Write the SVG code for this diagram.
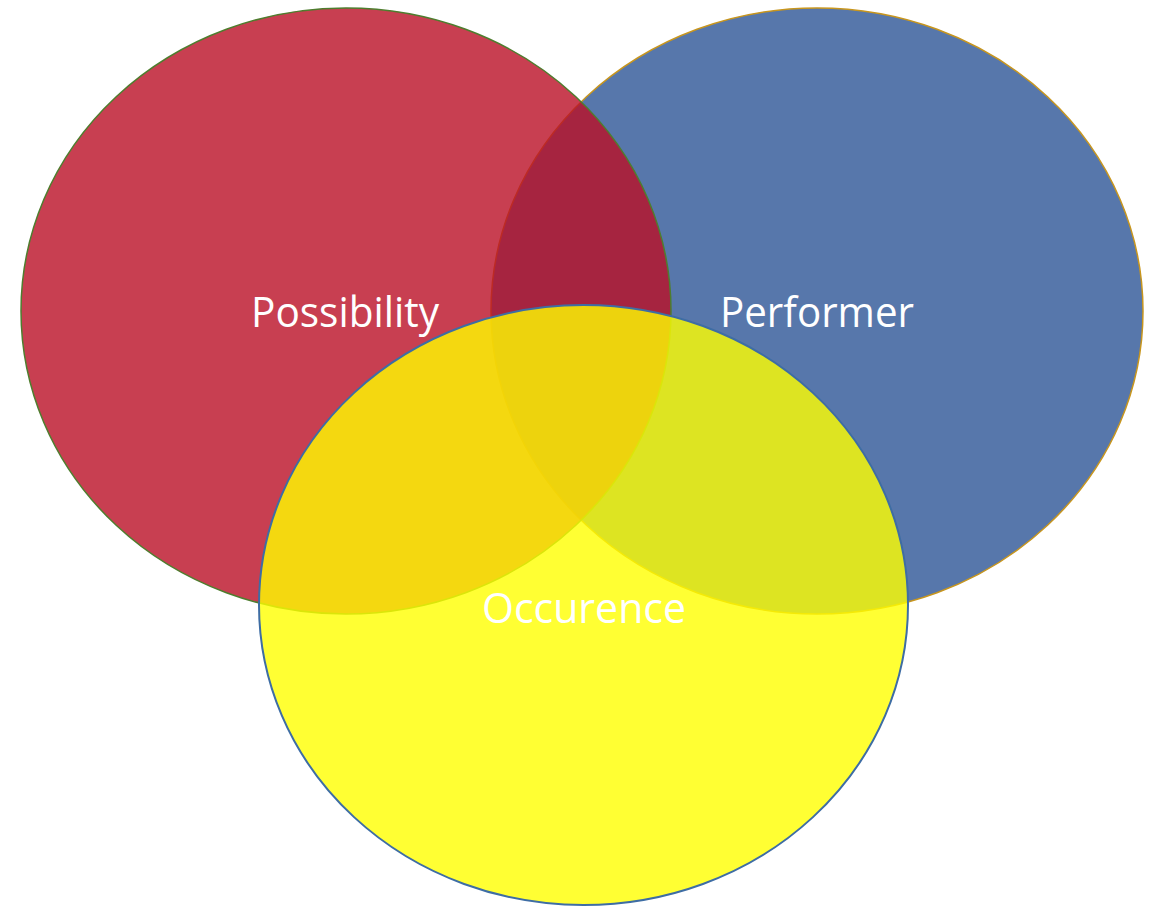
<svg xmlns="http://www.w3.org/2000/svg" width="1151" height="906" viewBox="0 0 1151 906">
<style>
.lbl{font-family:"Open Sans","Liberation Sans",sans-serif;font-size:42px;fill:#ffffff;text-anchor:middle}
</style>
<rect width="1151" height="906" fill="#ffffff"/>
<g id="performer">
<ellipse cx="817" cy="311" rx="326" ry="303" fill="#2D5596" fill-opacity="0.8" stroke="#C8961E" stroke-width="1.5"/>
</g>
<g id="possibility">
<ellipse cx="346" cy="311" rx="325" ry="303" fill="#BA0F26" fill-opacity="0.8" stroke="#4E7D2E" stroke-width="1.5"/>
</g>
<g id="occurence">
<ellipse cx="583.5" cy="605" rx="324.5" ry="300" fill="#FFFF00" fill-opacity="0.8" stroke="#3E6DA4" stroke-width="2"/>
</g>
<g id="labels">
<text class="lbl" x="345" y="327" textLength="188" lengthAdjust="spacingAndGlyphs">Possibility</text>
<text class="lbl" x="817" y="327" textLength="194" lengthAdjust="spacingAndGlyphs">Performer</text>
<text class="lbl" x="584" y="623" textLength="204" lengthAdjust="spacingAndGlyphs">Occurence</text>
</g>
<g id="connectors"></g>
</svg>
